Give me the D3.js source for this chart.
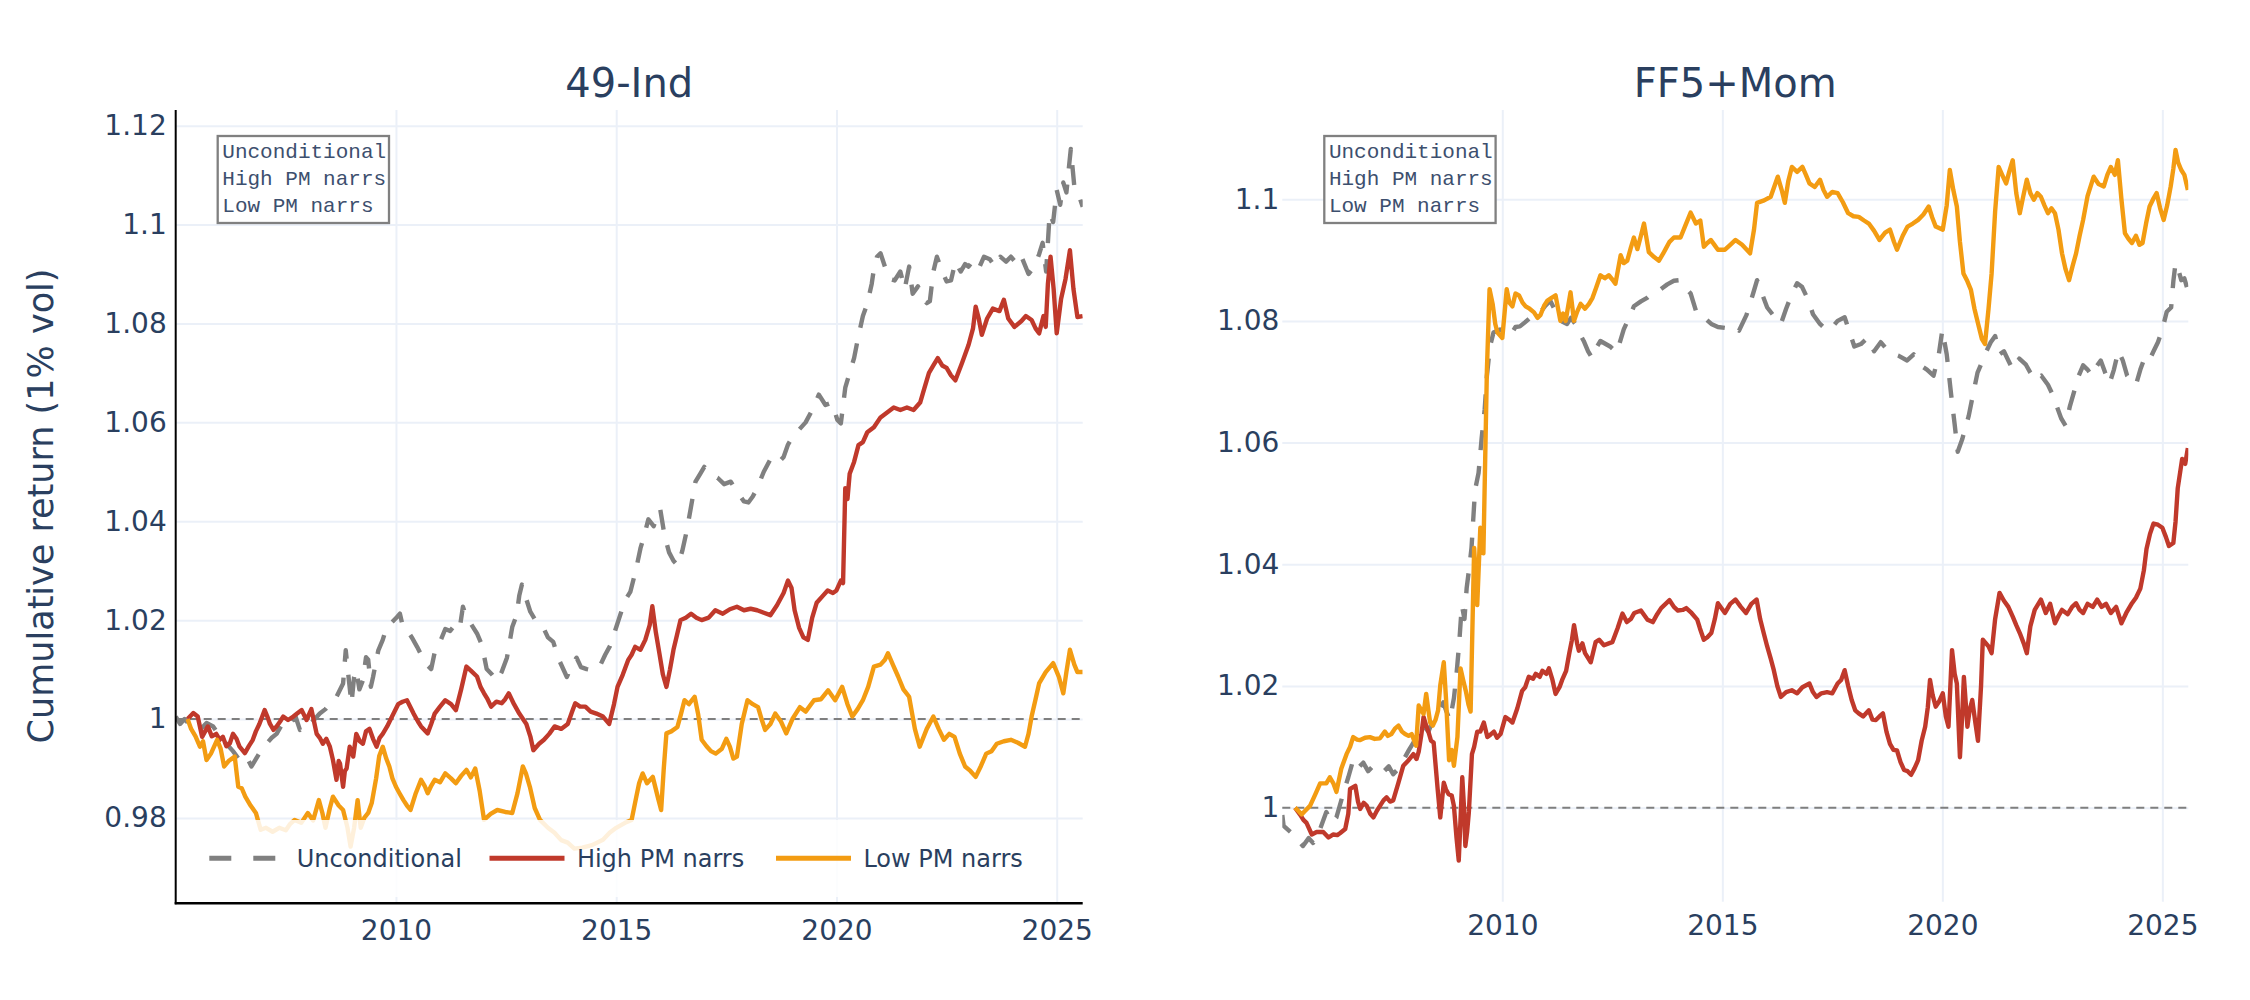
<!DOCTYPE html>
<html>
<head>
<meta charset="utf-8">
<script src="https://cdn.jsdelivr.net/npm/d3@7"></script>
<style>
  body { margin: 0; background: #fff; }
</style>
</head>
<body>
<svg id="chart" width="2250" height="1000" font-family='"DejaVu Sans", Verdana, sans-serif'></svg>
<script>
// ---- data ([year, cumulative return]) ----
const seriesNames = ["Unconditional", "High PM narrs", "Low PM narrs"];
const xTicks = [2010, 2015, 2020, 2025];
const xRange = [2005, 2025.59];

const ind49YTicks = [0.98, 1, 1.02, 1.04, 1.06, 1.08, 1.1, 1.12];
const ind49YRange = [0.96273, 1.12317];
const ffYTicks = [1, 1.02, 1.04, 1.06, 1.08, 1.1];
const ffYRange = [0.98455, 1.11466];

const ind49Uncond = [[2005.0,1.0005],[2005.1,0.999],[2005.2,1.0],[2005.35,0.9985],[2005.55,0.9978],[2005.7,0.9992],[2005.85,0.9985],[2006.0,0.9965],[2006.15,0.995],[2006.3,0.9935],[2006.45,0.9917],[2006.6,0.9925],[2006.72,0.9904],[2006.9,0.9931],[2007.06,0.995],[2007.18,0.9962],[2007.29,0.997],[2007.45,0.9995],[2007.6,0.999],[2007.72,1.0005],[2007.82,0.9978],[2007.95,0.9992],[2008.05,0.999],[2008.18,1.0002],[2008.27,1.0011],[2008.4,1.002],[2008.5,1.0031],[2008.65,1.0045],[2008.8,1.0072],[2008.86,1.0139],[2008.93,1.008],[2008.99,1.0031],[2009.05,1.0085],[2009.1,1.0099],[2009.17,1.006],[2009.25,1.0078],[2009.32,1.0125],[2009.37,1.012],[2009.43,1.0065],[2009.48,1.0085],[2009.6,1.0139],[2009.7,1.016],[2009.79,1.0186],[2009.9,1.0195],[2010.02,1.0206],[2010.09,1.0213],[2010.16,1.0186],[2010.25,1.018],[2010.36,1.0165],[2010.48,1.0146],[2010.6,1.0125],[2010.72,1.0108],[2010.8,1.0101],[2010.88,1.0135],[2011.0,1.0156],[2011.12,1.0182],[2011.23,1.0178],[2011.36,1.0193],[2011.45,1.0185],[2011.52,1.0227],[2011.6,1.0205],[2011.7,1.0193],[2011.84,1.0173],[2011.95,1.015],[2012.06,1.0101],[2012.18,1.009],[2012.29,1.0077],[2012.4,1.0095],[2012.52,1.0124],[2012.64,1.0186],[2012.74,1.021],[2012.8,1.025],[2012.86,1.0272],[2012.95,1.0245],[2013.05,1.0217],[2013.2,1.0195],[2013.34,1.0186],[2013.45,1.0165],[2013.57,1.0156],[2013.7,1.012],[2013.88,1.0085],[2014.0,1.011],[2014.1,1.0124],[2014.2,1.0105],[2014.33,1.0101],[2014.5,1.0098],[2014.64,1.0109],[2014.75,1.013],[2014.86,1.0148],[2014.98,1.018],[2015.09,1.021],[2015.2,1.024],[2015.32,1.0257],[2015.4,1.0285],[2015.47,1.0311],[2015.55,1.0345],[2015.62,1.0366],[2015.73,1.0404],[2015.85,1.039],[2015.95,1.0415],[2016.0,1.0424],[2016.1,1.037],[2016.2,1.0337],[2016.3,1.032],[2016.4,1.031],[2016.5,1.034],[2016.6,1.038],[2016.7,1.043],[2016.8,1.048],[2016.9,1.0495],[2017.0,1.051],[2017.15,1.0495],[2017.3,1.0488],[2017.45,1.0475],[2017.6,1.048],[2017.7,1.0465],[2017.8,1.0453],[2017.9,1.044],[2018.0,1.0438],[2018.1,1.045],[2018.2,1.0467],[2018.35,1.05],[2018.5,1.0525],[2018.65,1.0515],[2018.8,1.053],[2018.9,1.0555],[2019.0,1.057],[2019.15,1.0585],[2019.3,1.06],[2019.45,1.0625],[2019.6,1.0656],[2019.75,1.0635],[2019.9,1.064],[2020.02,1.0605],[2020.1,1.0598],[2020.2,1.067],[2020.3,1.07],[2020.4,1.073],[2020.5,1.0775],[2020.6,1.0815],[2020.7,1.084],[2020.8,1.088],[2020.85,1.091],[2020.92,1.0935],[2021.0,1.0942],[2021.1,1.0915],[2021.2,1.089],[2021.32,1.0887],[2021.45,1.0905],[2021.55,1.087],[2021.65,1.0915],[2021.73,1.086],[2021.85,1.0875],[2021.95,1.0855],[2022.05,1.0841],[2022.12,1.0845],[2022.2,1.0905],[2022.28,1.0935],[2022.38,1.091],[2022.5,1.0885],[2022.6,1.0887],[2022.7,1.0925],[2022.82,1.0905],[2022.92,1.092],[2023.0,1.0915],[2023.12,1.093],[2023.25,1.0915],[2023.35,1.0935],[2023.48,1.093],[2023.6,1.0915],[2023.72,1.0935],[2023.85,1.0925],[2023.96,1.0935],[2024.1,1.092],[2024.2,1.0935],[2024.36,1.09],[2024.5,1.0915],[2024.6,1.094],[2024.68,1.0963],[2024.76,1.0905],[2024.84,1.1023],[2024.92,1.1005],[2025.0,1.107],[2025.08,1.104],[2025.15,1.1085],[2025.22,1.1065],[2025.32,1.1153],[2025.4,1.1077],[2025.48,1.1065],[2025.59,1.1036]];

const ind49High = [[2005.27,1.0],[2005.4,1.0012],[2005.5,1.0005],[2005.6,0.9964],[2005.73,0.9985],[2005.82,0.9965],[2005.92,0.997],[2006.0,0.9958],[2006.07,0.9964],[2006.15,0.9945],[2006.23,0.9951],[2006.3,0.997],[2006.38,0.996],[2006.45,0.9944],[2006.57,0.9931],[2006.66,0.9945],[2006.75,0.9958],[2006.82,0.9975],[2006.9,0.999],[2007.02,1.0018],[2007.08,1.0005],[2007.14,0.999],[2007.22,0.9978],[2007.29,0.9985],[2007.37,0.9995],[2007.44,1.0005],[2007.55,0.9998],[2007.67,1.0005],[2007.77,1.0012],[2007.86,1.0018],[2007.97,0.9998],[2008.08,1.002],[2008.14,0.9995],[2008.2,0.997],[2008.27,0.9962],[2008.34,0.995],[2008.42,0.996],[2008.5,0.9944],[2008.57,0.9917],[2008.65,0.9877],[2008.7,0.9915],[2008.73,0.991],[2008.8,0.9863],[2008.84,0.9895],[2008.88,0.99],[2008.95,0.9944],[2009.03,0.9924],[2009.1,0.997],[2009.18,0.9955],[2009.25,0.995],[2009.32,0.9975],[2009.4,0.998],[2009.48,0.996],[2009.56,0.9944],[2009.63,0.9962],[2009.7,0.997],[2009.8,0.9985],[2009.9,1.0003],[2010.05,1.003],[2010.15,1.0035],[2010.25,1.0038],[2010.4,1.0011],[2010.5,0.9995],[2010.57,0.9985],[2010.72,0.9971],[2010.8,0.999],[2010.88,1.0011],[2011.0,1.0025],[2011.12,1.0038],[2011.25,1.003],[2011.36,1.0018],[2011.48,1.006],[2011.6,1.0106],[2011.7,1.0098],[2011.84,1.0086],[2011.92,1.0065],[2012.0,1.0052],[2012.08,1.004],[2012.16,1.0025],[2012.28,1.0035],[2012.4,1.0032],[2012.48,1.004],[2012.56,1.0052],[2012.68,1.003],[2012.8,1.0011],[2012.96,0.999],[2013.05,0.9965],[2013.12,0.9937],[2013.25,0.995],[2013.36,0.9958],[2013.48,0.997],[2013.6,0.9985],[2013.75,0.998],[2013.9,0.999],[2014.0,1.0015],[2014.07,1.0032],[2014.18,1.0025],[2014.3,1.0025],[2014.42,1.0015],[2014.55,1.0011],[2014.7,1.0005],[2014.84,0.999],[2014.95,1.003],[2015.03,1.0065],[2015.15,1.009],[2015.27,1.0119],[2015.35,1.013],[2015.43,1.0146],[2015.55,1.014],[2015.66,1.016],[2015.76,1.019],[2015.82,1.0228],[2015.9,1.0175],[2015.98,1.0133],[2016.06,1.009],[2016.14,1.0065],[2016.22,1.01],[2016.3,1.014],[2016.38,1.017],[2016.46,1.02],[2016.58,1.0205],[2016.7,1.0213],[2016.82,1.0205],[2016.94,1.02],[2017.1,1.0205],[2017.25,1.022],[2017.42,1.0213],[2017.58,1.0222],[2017.74,1.0227],[2017.9,1.022],[2018.05,1.0223],[2018.2,1.022],[2018.35,1.0215],[2018.5,1.021],[2018.65,1.023],[2018.8,1.0255],[2018.9,1.028],[2018.98,1.0265],[2019.05,1.022],[2019.15,1.0185],[2019.25,1.0165],[2019.35,1.016],[2019.45,1.0205],[2019.55,1.0235],[2019.7,1.025],[2019.8,1.026],[2019.92,1.0255],[2020.0,1.026],[2020.1,1.028],[2020.15,1.0275],[2020.2,1.0467],[2020.25,1.0445],[2020.3,1.0496],[2020.4,1.052],[2020.5,1.0554],[2020.6,1.056],[2020.7,1.058],[2020.85,1.059],[2021.0,1.061],[2021.15,1.062],[2021.3,1.063],[2021.45,1.0625],[2021.6,1.063],[2021.75,1.0625],[2021.9,1.064],[2022.0,1.067],[2022.1,1.07],[2022.2,1.0715],[2022.3,1.073],[2022.4,1.0715],[2022.5,1.071],[2022.6,1.0695],[2022.7,1.0685],[2022.85,1.072],[2023.0,1.0757],[2023.1,1.079],[2023.16,1.0834],[2023.23,1.081],[2023.3,1.0777],[2023.42,1.081],[2023.55,1.083],[2023.7,1.0825],[2023.8,1.0848],[2023.9,1.081],[2024.04,1.0793],[2024.2,1.0805],[2024.3,1.0815],[2024.43,1.0807],[2024.52,1.079],[2024.6,1.078],[2024.7,1.0815],[2024.75,1.0793],[2024.8,1.088],[2024.86,1.0935],[2024.93,1.087],[2025.0,1.078],[2025.1,1.085],[2025.2,1.089],[2025.3,1.0948],[2025.38,1.087],[2025.47,1.0813],[2025.59,1.0815]];

const ind49Low = [[2005.27,1.0],[2005.35,0.998],[2005.45,0.9965],[2005.55,0.9944],[2005.62,0.9955],[2005.7,0.9917],[2005.8,0.993],[2005.94,0.9958],[2006.02,0.994],[2006.1,0.9904],[2006.2,0.9915],[2006.34,0.9924],[2006.42,0.9863],[2006.5,0.986],[2006.58,0.9843],[2006.7,0.9825],[2006.82,0.981],[2006.93,0.9776],[2007.05,0.978],[2007.2,0.9772],[2007.35,0.978],[2007.5,0.9775],[2007.6,0.9788],[2007.7,0.9796],[2007.85,0.979],[2008.0,0.981],[2008.12,0.9795],[2008.25,0.9836],[2008.33,0.981],[2008.4,0.978],[2008.5,0.982],[2008.57,0.9843],[2008.7,0.9825],[2008.8,0.9816],[2008.9,0.978],[2008.97,0.9742],[2009.05,0.978],[2009.13,0.9836],[2009.2,0.978],[2009.28,0.98],[2009.37,0.981],[2009.45,0.983],[2009.55,0.988],[2009.62,0.9925],[2009.7,0.9944],[2009.78,0.992],[2009.85,0.9904],[2009.92,0.988],[2010.0,0.9863],[2010.08,0.985],[2010.17,0.9836],[2010.25,0.9825],[2010.33,0.9816],[2010.45,0.985],[2010.57,0.9877],[2010.65,0.9865],[2010.72,0.985],[2010.8,0.9865],[2010.88,0.9877],[2011.0,0.9872],[2011.12,0.989],[2011.25,0.988],[2011.36,0.987],[2011.48,0.9885],[2011.6,0.9897],[2011.7,0.9882],[2011.8,0.99],[2011.9,0.9855],[2012.0,0.9796],[2012.15,0.9808],[2012.3,0.9816],[2012.48,0.9812],[2012.64,0.981],[2012.76,0.985],[2012.88,0.9904],[2012.95,0.989],[2013.04,0.9863],[2013.15,0.982],[2013.27,0.9796],[2013.45,0.978],[2013.6,0.977],[2013.75,0.9755],[2013.9,0.975],[2014.05,0.9738],[2014.23,0.974],[2014.45,0.9745],[2014.7,0.9756],[2014.85,0.977],[2015.0,0.978],[2015.2,0.979],[2015.35,0.9796],[2015.45,0.984],[2015.52,0.987],[2015.6,0.989],[2015.7,0.987],[2015.83,0.9883],[2015.95,0.984],[2016.02,0.9816],[2016.08,0.99],[2016.14,0.9971],[2016.25,0.9975],[2016.39,0.9984],[2016.47,1.001],[2016.55,1.0038],[2016.65,1.003],[2016.78,1.0045],[2016.86,1.001],[2016.94,0.9958],[2017.05,0.9945],[2017.15,0.9935],[2017.26,0.993],[2017.4,0.994],[2017.5,0.996],[2017.58,0.9944],[2017.66,0.992],[2017.74,0.9924],[2017.85,0.999],[2017.98,1.0038],[2018.1,1.003],[2018.22,1.0024],[2018.3,1.0],[2018.38,0.9978],[2018.5,0.999],[2018.61,1.0011],[2018.74,0.9995],[2018.86,0.9971],[2019.0,1.0],[2019.17,1.0024],[2019.3,1.0015],[2019.49,1.0038],[2019.65,1.004],[2019.81,1.0058],[2019.97,1.0038],[2020.13,1.0065],[2020.25,1.003],[2020.36,1.0005],[2020.48,1.002],[2020.6,1.0038],[2020.72,1.0065],[2020.85,1.0106],[2021.0,1.011],[2021.1,1.012],[2021.17,1.0133],[2021.28,1.011],[2021.4,1.0086],[2021.52,1.006],[2021.65,1.0045],[2021.78,0.998],[2021.89,0.9944],[2022.05,0.998],[2022.2,1.0005],[2022.32,0.998],[2022.44,0.9958],[2022.56,0.997],[2022.68,0.9964],[2022.8,0.993],[2022.92,0.9904],[2023.04,0.9895],[2023.16,0.9883],[2023.28,0.9905],[2023.4,0.993],[2023.52,0.9935],[2023.64,0.995],[2023.8,0.9955],[2023.96,0.9958],[2024.12,0.9952],[2024.28,0.9944],[2024.36,0.997],[2024.43,1.0005],[2024.52,1.004],[2024.6,1.0072],[2024.75,1.0095],[2024.92,1.0113],[2025.05,1.0085],[2025.15,1.0052],[2025.22,1.0095],[2025.3,1.014],[2025.4,1.011],[2025.47,1.0095],[2025.59,1.0095]];

const ffUncond = [[2005.0,0.9988],[2005.03,0.997],[2005.25,0.9956],[2005.47,0.9937],[2005.6,0.995],[2005.7,0.9942],[2005.86,0.9965],[2006.0,0.9993],[2006.12,0.9975],[2006.23,0.9984],[2006.38,1.0022],[2006.5,1.005],[2006.61,1.0078],[2006.72,1.0065],[2006.84,1.0074],[2006.95,1.006],[2007.07,1.0069],[2007.2,1.0065],[2007.3,1.0059],[2007.42,1.0068],[2007.52,1.0055],[2007.65,1.0065],[2007.75,1.0078],[2007.88,1.0095],[2007.98,1.0107],[2008.1,1.012],[2008.21,1.0135],[2008.32,1.0125],[2008.43,1.0144],[2008.55,1.016],[2008.66,1.0173],[2008.72,1.016],[2008.81,1.0144],[2008.9,1.018],[2008.96,1.022],[2009.02,1.027],[2009.08,1.0333],[2009.14,1.031],[2009.19,1.0361],[2009.25,1.0395],[2009.3,1.0427],[2009.38,1.0522],[2009.46,1.055],[2009.53,1.0607],[2009.6,1.0655],[2009.65,1.071],[2009.72,1.0758],[2009.8,1.0781],[2009.95,1.0786],[2010.05,1.078],[2010.18,1.0776],[2010.3,1.079],[2010.4,1.0791],[2010.52,1.0798],[2010.63,1.0805],[2010.75,1.0808],[2010.86,1.0814],[2010.98,1.0825],[2011.09,1.0833],[2011.18,1.082],[2011.28,1.0805],[2011.38,1.0798],[2011.47,1.0795],[2011.56,1.0805],[2011.66,1.0795],[2011.75,1.078],[2011.85,1.0767],[2011.95,1.075],[2012.04,1.0739],[2012.13,1.0755],[2012.23,1.0767],[2012.35,1.0762],[2012.45,1.0758],[2012.6,1.0748],[2012.76,1.0786],[2012.88,1.0805],[2012.99,1.0824],[2013.15,1.0832],[2013.29,1.0838],[2013.47,1.085],[2013.6,1.0852],[2013.75,1.086],[2013.9,1.0866],[2014.03,1.0867],[2014.13,1.0857],[2014.28,1.0845],[2014.43,1.081],[2014.58,1.0806],[2014.75,1.0795],[2014.9,1.079],[2015.1,1.0788],[2015.25,1.0792],[2015.38,1.0784],[2015.55,1.081],[2015.7,1.0845],[2015.79,1.0867],[2015.9,1.0845],[2016.02,1.0822],[2016.15,1.081],[2016.33,1.0795],[2016.45,1.082],[2016.58,1.0844],[2016.7,1.0862],[2016.81,1.0856],[2016.95,1.0835],[2017.06,1.0811],[2017.22,1.0795],[2017.38,1.0784],[2017.5,1.079],[2017.62,1.08],[2017.78,1.0806],[2017.9,1.078],[2018.0,1.0758],[2018.15,1.0762],[2018.3,1.0772],[2018.45,1.075],[2018.6,1.0765],[2018.8,1.0748],[2019.0,1.0743],[2019.2,1.0735],[2019.35,1.0745],[2019.5,1.0727],[2019.65,1.072],[2019.8,1.071],[2019.92,1.0745],[2020.0,1.0785],[2020.1,1.0745],[2020.2,1.0679],[2020.28,1.063],[2020.35,1.0585],[2020.45,1.0605],[2020.6,1.0644],[2020.7,1.068],[2020.8,1.0715],[2020.92,1.0735],[2021.0,1.075],[2021.1,1.0765],[2021.2,1.0775],[2021.3,1.0745],[2021.4,1.075],[2021.5,1.0735],[2021.6,1.072],[2021.75,1.0738],[2021.9,1.0728],[2022.0,1.0715],[2022.1,1.0703],[2022.25,1.071],[2022.4,1.0695],[2022.5,1.068],[2022.6,1.066],[2022.7,1.064],[2022.8,1.0628],[2022.9,1.066],[2023.0,1.0685],[2023.1,1.071],[2023.2,1.0727],[2023.3,1.072],[2023.4,1.071],[2023.5,1.0725],[2023.6,1.0735],[2023.7,1.0715],[2023.8,1.0697],[2023.9,1.072],[2024.0,1.0751],[2024.1,1.0735],[2024.2,1.071],[2024.3,1.07],[2024.4,1.0695],[2024.5,1.072],[2024.6,1.074],[2024.7,1.0735],[2024.8,1.075],[2024.9,1.0765],[2025.0,1.0786],[2025.1,1.0815],[2025.2,1.0822],[2025.25,1.0865],[2025.3,1.0895],[2025.36,1.0885],[2025.43,1.0867],[2025.5,1.087],[2025.58,1.085]];

const ffHigh = [[2005.29,1.0],[2005.4,0.9989],[2005.48,0.998],[2005.55,0.9975],[2005.67,0.9956],[2005.78,0.996],[2005.93,0.996],[2006.05,0.9951],[2006.16,0.9956],[2006.25,0.9955],[2006.31,0.9958],[2006.43,0.9965],[2006.5,0.999],[2006.54,1.0031],[2006.66,1.0036],[2006.72,1.001],[2006.77,0.9998],[2006.85,1.0008],[2006.92,1.0003],[2007.0,0.999],[2007.07,0.9984],[2007.15,0.9995],[2007.22,1.0003],[2007.3,1.0012],[2007.37,1.0017],[2007.45,1.001],[2007.52,1.0012],[2007.64,1.0041],[2007.75,1.0069],[2007.87,1.0078],[2007.98,1.0088],[2008.05,1.008],[2008.1,1.0092],[2008.16,1.012],[2008.21,1.0149],[2008.27,1.0135],[2008.32,1.0125],[2008.38,1.011],[2008.44,1.0107],[2008.53,1.0031],[2008.59,0.9984],[2008.67,1.0041],[2008.72,1.003],[2008.78,1.0022],[2008.85,1.002],[2008.9,1.0003],[2008.96,0.995],[2009.01,0.9913],[2009.05,0.998],[2009.09,1.005],[2009.13,1.0],[2009.16,0.9937],[2009.2,0.996],[2009.24,0.9993],[2009.31,1.0088],[2009.36,1.01],[2009.43,1.0125],[2009.5,1.0125],[2009.58,1.014],[2009.66,1.0116],[2009.73,1.012],[2009.81,1.0125],[2009.88,1.0115],[2009.96,1.0121],[2010.07,1.0149],[2010.15,1.0145],[2010.23,1.014],[2010.34,1.0163],[2010.45,1.0192],[2010.52,1.0198],[2010.6,1.0215],[2010.7,1.0212],[2010.76,1.022],[2010.85,1.0215],[2010.91,1.0225],[2011.0,1.022],[2011.06,1.0229],[2011.14,1.021],[2011.21,1.0187],[2011.3,1.0198],[2011.36,1.021],[2011.45,1.0225],[2011.52,1.0253],[2011.58,1.0275],[2011.63,1.03],[2011.7,1.027],[2011.74,1.0258],[2011.82,1.027],[2011.88,1.0254],[2012.01,1.0239],[2012.12,1.0272],[2012.2,1.0276],[2012.31,1.0267],[2012.42,1.027],[2012.5,1.0272],[2012.62,1.0295],[2012.73,1.0319],[2012.83,1.0305],[2012.92,1.031],[2013.0,1.032],[2013.15,1.0324],[2013.3,1.0309],[2013.42,1.0305],[2013.52,1.0318],[2013.61,1.0328],[2013.8,1.0341],[2013.9,1.033],[2013.99,1.0324],[2014.1,1.0325],[2014.18,1.0328],[2014.3,1.032],[2014.43,1.0309],[2014.49,1.0295],[2014.58,1.0276],[2014.66,1.028],[2014.75,1.0287],[2014.83,1.031],[2014.9,1.0336],[2015.06,1.032],[2015.18,1.0335],[2015.3,1.0342],[2015.42,1.033],[2015.54,1.032],[2015.66,1.0335],[2015.78,1.0342],[2015.86,1.031],[2015.94,1.0287],[2016.02,1.0265],[2016.1,1.0245],[2016.17,1.0226],[2016.25,1.02],[2016.33,1.0182],[2016.45,1.019],[2016.58,1.0193],[2016.7,1.0188],[2016.82,1.0198],[2016.98,1.0204],[2017.06,1.019],[2017.14,1.0182],[2017.25,1.0188],[2017.38,1.019],[2017.5,1.0188],[2017.62,1.0204],[2017.7,1.021],[2017.78,1.0226],[2017.86,1.02],[2017.94,1.0177],[2018.02,1.016],[2018.1,1.0155],[2018.2,1.015],[2018.33,1.016],[2018.41,1.0145],[2018.49,1.0144],[2018.57,1.015],[2018.65,1.0155],[2018.73,1.0125],[2018.81,1.0105],[2018.89,1.0095],[2018.97,1.0094],[2019.05,1.0075],[2019.13,1.0062],[2019.21,1.006],[2019.29,1.0054],[2019.37,1.0065],[2019.45,1.0078],[2019.53,1.011],[2019.61,1.0133],[2019.67,1.0165],[2019.72,1.021],[2019.78,1.0185],[2019.85,1.0166],[2019.93,1.0175],[2020.01,1.0188],[2020.08,1.015],[2020.14,1.0133],[2020.22,1.0259],[2020.28,1.022],[2020.33,1.0204],[2020.4,1.0083],[2020.45,1.015],[2020.49,1.0215],[2020.57,1.0133],[2020.62,1.016],[2020.68,1.0177],[2020.75,1.014],[2020.81,1.011],[2020.88,1.02],[2020.92,1.0276],[2021.05,1.0265],[2021.12,1.0254],[2021.2,1.031],[2021.3,1.0353],[2021.4,1.034],[2021.5,1.033],[2021.6,1.0314],[2021.68,1.03],[2021.76,1.0287],[2021.85,1.027],[2021.92,1.0254],[2022.0,1.0298],[2022.1,1.0325],[2022.24,1.0342],[2022.35,1.032],[2022.45,1.0335],[2022.56,1.0303],[2022.64,1.0315],[2022.72,1.0325],[2022.85,1.0318],[2022.95,1.033],[2023.04,1.0336],[2023.12,1.0325],[2023.2,1.032],[2023.3,1.0335],[2023.42,1.033],[2023.52,1.0342],[2023.62,1.033],[2023.72,1.0335],[2023.83,1.032],[2023.95,1.033],[2024.07,1.0303],[2024.18,1.032],[2024.31,1.0336],[2024.4,1.0345],[2024.5,1.036],[2024.58,1.039],[2024.64,1.0425],[2024.72,1.045],[2024.8,1.0467],[2024.9,1.0465],[2025.0,1.046],[2025.08,1.0445],[2025.15,1.043],[2025.25,1.0435],[2025.3,1.047],[2025.35,1.0525],[2025.45,1.0573],[2025.52,1.0565],[2025.58,1.0591]];

const ffLow = [[2005.29,1.0],[2005.36,0.9995],[2005.44,0.9989],[2005.52,0.9995],[2005.63,1.0003],[2005.75,1.0022],[2005.86,1.004],[2006.0,1.004],[2006.08,1.005],[2006.16,1.004],[2006.23,1.0026],[2006.34,1.0064],[2006.46,1.0088],[2006.54,1.01],[2006.61,1.0116],[2006.7,1.0112],[2006.76,1.0111],[2006.88,1.0115],[2006.99,1.0116],[2007.1,1.0113],[2007.22,1.0114],[2007.33,1.0125],[2007.4,1.0118],[2007.48,1.0121],[2007.56,1.013],[2007.64,1.0135],[2007.72,1.0125],[2007.79,1.0121],[2007.87,1.0118],[2007.94,1.0121],[2008.04,1.0102],[2008.1,1.0168],[2008.16,1.016],[2008.21,1.0154],[2008.27,1.0187],[2008.32,1.016],[2008.36,1.014],[2008.42,1.0135],[2008.48,1.0144],[2008.54,1.016],[2008.59,1.0201],[2008.67,1.0239],[2008.72,1.018],[2008.79,1.0078],[2008.85,1.0095],[2008.9,1.0069],[2008.98,1.0116],[2009.05,1.0229],[2009.11,1.021],[2009.17,1.0192],[2009.23,1.017],[2009.28,1.0158],[2009.36,1.0427],[2009.43,1.0333],[2009.5,1.046],[2009.57,1.0418],[2009.65,1.072],[2009.71,1.0852],[2009.78,1.0828],[2009.84,1.0795],[2009.89,1.0781],[2010.0,1.0772],[2010.1,1.0852],[2010.16,1.083],[2010.23,1.0824],[2010.3,1.0845],[2010.38,1.0842],[2010.46,1.083],[2010.53,1.0824],[2010.62,1.082],[2010.72,1.0814],[2010.8,1.0805],[2010.87,1.081],[2010.95,1.0825],[2011.02,1.0833],[2011.12,1.0838],[2011.21,1.0842],[2011.32,1.08],[2011.38,1.0812],[2011.44,1.08],[2011.55,1.0847],[2011.63,1.08],[2011.7,1.0815],[2011.78,1.0828],[2011.88,1.082],[2011.97,1.0828],[2012.05,1.0838],[2012.12,1.0852],[2012.23,1.0875],[2012.33,1.087],[2012.42,1.0875],[2012.5,1.0868],[2012.57,1.0861],[2012.69,1.0908],[2012.76,1.0895],[2012.84,1.0899],[2012.92,1.092],[2012.99,1.0937],[2013.07,1.0918],[2013.15,1.094],[2013.22,1.096],[2013.33,1.0913],[2013.45,1.0905],[2013.56,1.0899],[2013.65,1.091],[2013.71,1.0918],[2013.8,1.093],[2013.9,1.0937],[2014.05,1.0937],[2014.15,1.0955],[2014.28,1.0978],[2014.4,1.096],[2014.5,1.0965],[2014.58,1.0922],[2014.66,1.0928],[2014.74,1.0933],[2014.82,1.0925],[2014.9,1.0917],[2015.06,1.0917],[2015.18,1.0925],[2015.3,1.0933],[2015.45,1.0925],[2015.63,1.0911],[2015.72,1.095],[2015.79,1.0994],[2015.95,1.0998],[2016.1,1.1004],[2016.26,1.1037],[2016.35,1.1015],[2016.42,1.0994],[2016.5,1.103],[2016.58,1.1053],[2016.7,1.1045],[2016.82,1.1053],[2016.9,1.104],[2016.98,1.1026],[2017.1,1.102],[2017.22,1.1032],[2017.3,1.1015],[2017.38,1.1004],[2017.5,1.1012],[2017.62,1.101],[2017.74,1.0995],[2017.86,1.0977],[2017.98,1.0972],[2018.1,1.0971],[2018.22,1.0965],[2018.33,1.096],[2018.45,1.0948],[2018.57,1.0933],[2018.7,1.0945],[2018.81,1.095],[2018.9,1.093],[2018.97,1.0917],[2019.1,1.094],[2019.21,1.0955],[2019.33,1.096],[2019.45,1.0966],[2019.57,1.0975],[2019.69,1.0988],[2019.77,1.097],[2019.85,1.0955],[2020.01,1.095],[2020.1,1.099],[2020.17,1.1048],[2020.25,1.1015],[2020.33,1.0988],[2020.4,1.093],[2020.48,1.0878],[2020.57,1.0865],[2020.65,1.0851],[2020.73,1.082],[2020.81,1.0796],[2020.9,1.077],[2020.97,1.0762],[2021.05,1.082],[2021.12,1.0878],[2021.2,1.098],[2021.28,1.1053],[2021.36,1.104],[2021.45,1.1026],[2021.52,1.1045],[2021.6,1.1064],[2021.68,1.101],[2021.76,1.0977],[2021.84,1.1005],[2021.92,1.1032],[2022.0,1.101],[2022.08,1.0999],[2022.16,1.101],[2022.24,1.1004],[2022.32,1.099],[2022.4,1.0977],[2022.48,1.0985],[2022.56,1.0977],[2022.64,1.095],[2022.72,1.0911],[2022.8,1.0885],[2022.88,1.0867],[2022.96,1.089],[2023.04,1.0911],[2023.12,1.094],[2023.2,1.0966],[2023.3,1.1005],[2023.44,1.1037],[2023.55,1.1025],[2023.67,1.1021],[2023.75,1.104],[2023.83,1.1053],[2023.92,1.104],[2023.99,1.1064],[2024.07,1.1],[2024.15,1.0944],[2024.23,1.0935],[2024.31,1.0928],[2024.4,1.094],[2024.48,1.0925],[2024.55,1.0928],[2024.63,1.096],[2024.71,1.0988],[2024.79,1.1],[2024.87,1.101],[2024.95,1.0985],[2025.03,1.0966],[2025.11,1.099],[2025.19,1.1021],[2025.25,1.105],[2025.3,1.1081],[2025.36,1.106],[2025.43,1.1048],[2025.5,1.104],[2025.58,1.1015]];

// ---- styling / layout ----
const colors = ["#808080", "#c0392b", "#f39c12"];
const dashes = ["20,16", null, null];
const textColor = "#2a3f5f";
const gridColor = "#ebf0f8";
const sansFont = '"DejaVu Sans", Verdana, sans-serif';
const monoFont = '"Liberation Mono", "Courier New", monospace';

const panels = [
  { title: "49-Ind", series: [ind49Uncond, ind49High, ind49Low], yRange: ind49YRange, yTicks: ind49YTicks,
    left: 175.7, right: 1082.7, top: 110, bottom: 903.3, axisLines: true, yPad: 9, xPad: 16.8, legend: true },
  { title: "FF5+Mom", series: [ffUncond, ffHigh, ffLow], yRange: ffYRange, yTicks: ffYTicks,
    left: 1282.3, right: 2188.3, top: 110, bottom: 901.7, axisLines: false, yPad: 3, xPad: 13.4, legend: false }
];

const svg = d3.select("#chart");
svg.append("rect").attr("width", 2250).attr("height", 1000).attr("fill", "#fff");

const fmt = d => String(Math.round(d * 100) / 100);

panels.forEach((p, pi) => {
  const x = d3.scaleLinear().domain(xRange).range([p.left, p.right]);
  const y = d3.scaleLinear().domain(p.yRange).range([p.bottom, p.top]);
  const w = p.right - p.left, h = p.bottom - p.top;
  const g = svg.append("g");

  // grid + tick labels through d3 axes
  const yAxis = g.append("g").attr("transform", `translate(${p.left},0)`)
    .call(d3.axisLeft(y).tickValues(p.yTicks).tickSize(-w).tickPadding(p.yPad).tickFormat(fmt));
  const xAxis = g.append("g").attr("transform", `translate(0,${p.bottom})`)
    .call(d3.axisBottom(x).tickValues(xTicks).tickSize(-h).tickPadding(p.xPad).tickFormat(d3.format("d")));
  [yAxis, xAxis].forEach(a => {
    a.attr("font-family", sansFont).attr("font-size", 28);
    a.select(".domain").remove();
    a.selectAll(".tick line").attr("stroke", gridColor).attr("stroke-width", 2);
    a.selectAll(".tick text").attr("fill", textColor);
  });

  // y = 1 reference line
  g.append("line")
    .attr("x1", p.left).attr("x2", p.right).attr("y1", y(1)).attr("y2", y(1))
    .attr("stroke", "#7f7f7f").attr("stroke-width", 2).attr("stroke-dasharray", "8,6");

  // data lines
  const clipId = "clip" + pi;
  svg.append("clipPath").attr("id", clipId).append("rect")
    .attr("x", p.left).attr("y", p.top).attr("width", w).attr("height", h);
  const line = d3.line().x(d => x(d[0])).y(d => y(d[1]));
  const lines = g.append("g").attr("clip-path", `url(#${clipId})`);
  p.series.forEach((s, i) => {
    lines.append("path").datum(s)
      .attr("d", line)
      .attr("fill", "none")
      .attr("stroke", colors[i])
      .attr("stroke-width", 4.4)
      .attr("stroke-linejoin", "round")
      .attr("stroke-dasharray", dashes[i]);
  });

  // axis lines (left panel only)
  if (p.axisLines) {
    g.append("line").attr("x1", p.left).attr("x2", p.left).attr("y1", p.top).attr("y2", p.bottom + 1)
      .attr("stroke", "#000").attr("stroke-width", 2);
    g.append("line").attr("x1", p.left - 1).attr("x2", p.right).attr("y1", p.bottom).attr("y2", p.bottom)
      .attr("stroke", "#000").attr("stroke-width", 2.6);
  }

  // boxed label list (top-left annotation)
  const bx = p.left + 42, by = 136;
  g.append("rect").attr("x", bx).attr("y", by).attr("width", 171.3).attr("height", 87)
    .attr("fill", "#fff").attr("stroke", "#808080").attr("stroke-width", 2.3);
  seriesNames.forEach((n, i) => {
    g.append("text").attr("x", bx + 4.6).attr("y", by + 21.7 + i * 27)
      .style("font-family", monoFont)
      .attr("font-size", 21).attr("fill", "#3d4f6e").text(n);
  });

  // title
  g.append("text").attr("x", (p.left + p.right) / 2).attr("y", 97)
    .attr("text-anchor", "middle").attr("font-size", 40).attr("fill", textColor).text(p.title);

  // horizontal legend at the bottom of the left panel
  if (p.legend) {
    const lg = g.append("g");
    lg.append("rect").attr("x", 197).attr("y", 820).attr("width", 846).attr("height", 77)
      .attr("fill", "#fff").attr("fill-opacity", 0.85);
    const symStarts = [209.3, 489.5, 776];
    seriesNames.forEach((n, i) => {
      lg.append("line").attr("x1", symStarts[i]).attr("x2", symStarts[i] + 75)
        .attr("y1", 858.3).attr("y2", 858.3)
        .attr("stroke", colors[i]).attr("stroke-width", 5)
        .attr("stroke-dasharray", i === 0 ? "22,22" : null);
      lg.append("text").attr("x", symStarts[i] + 87.4).attr("y", 867)
        .attr("font-size", 24).attr("fill", textColor).text(n);
    });
  }
});

// y axis title
svg.append("text")
  .attr("transform", "translate(53,506) rotate(-90)")
  .attr("text-anchor", "middle").attr("font-size", 35).attr("fill", textColor)
  .text("Cumulative return (1% vol)");
</script>
</body>
</html>
